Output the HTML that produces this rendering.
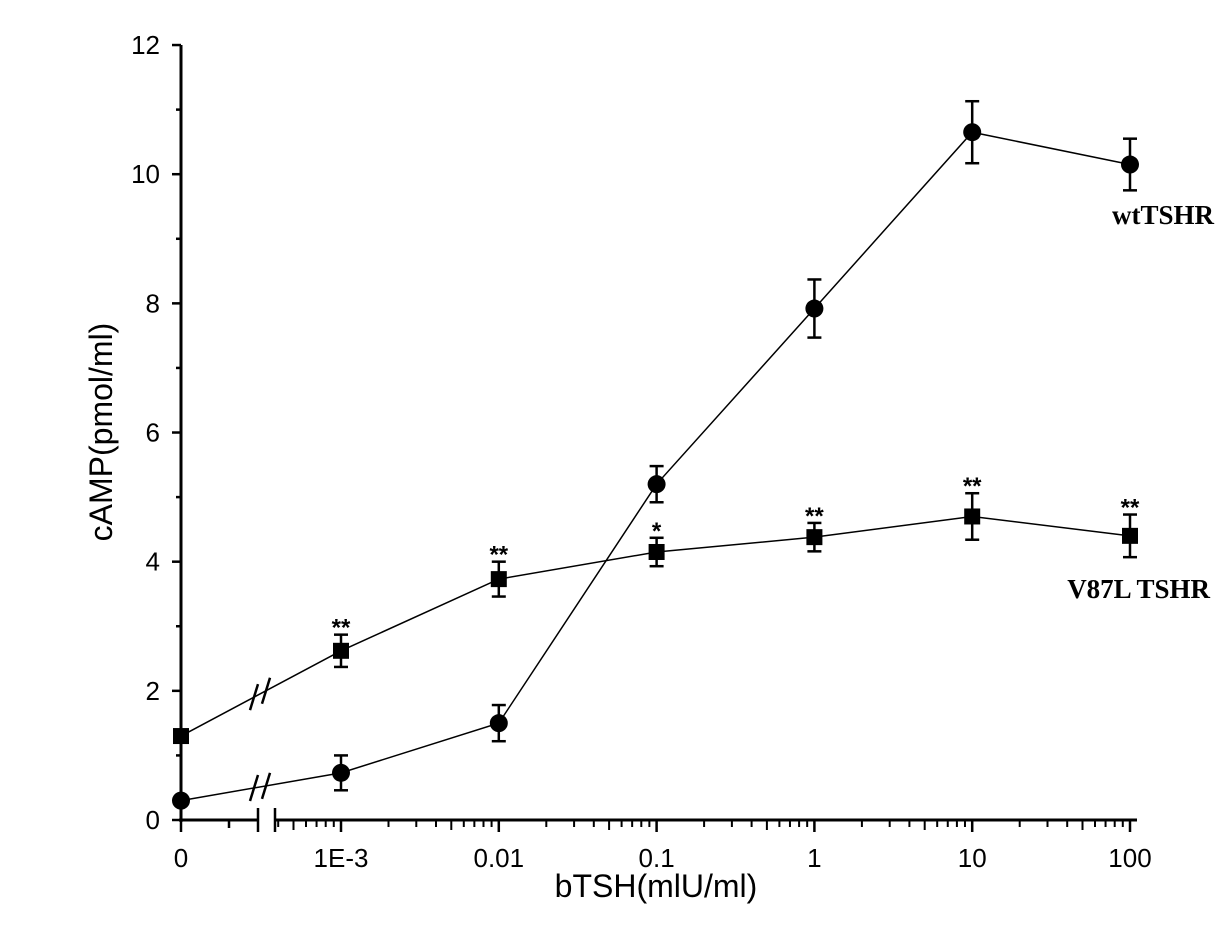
<!DOCTYPE html>
<html><head><meta charset="utf-8"><style>
body{margin:0;background:#fff}
svg text{font-family:"Liberation Sans",Arial,sans-serif}
</style></head><body>
<svg id="chart" width="1217" height="938" viewBox="0 0 1217 938"></svg>
<script>
const categories=["0","1E-3","0.01","0.1","1","10","100"];
const logPos=[null,-3,-2,-1,0,1,2];
const wtValues=[0.3,0.73,1.5,5.2,7.92,10.65,10.15];
const wtErrors=[0,0.27,0.28,0.28,0.45,0.48,0.4];
const mutValues=[1.3,2.62,3.73,4.15,4.38,4.7,4.4];
const mutErrors=[0,0.25,0.27,0.22,0.22,0.36,0.33];
const mutStars=["","**","**","*","**","**","**"];
const yTicks=[0,2,4,6,8,10,12];
const NS="http://www.w3.org/2000/svg";
const svg=document.getElementById('chart');
function y(v){return 820-v*64.58;}
function xl(l){return 341+(l+3)*157.8;}
function xc(i){return logPos[i]===null?181:xl(logPos[i]);}
function mk(t,a,p){const e=document.createElementNS(NS,t);for(const k in a)e.setAttribute(k,a[k]);(p||svg).appendChild(e);return e;}
let e;
e=mk('line',{x1:181,y1:45,x2:181,y2:822,stroke:'#000','stroke-width':3});


e=mk('line',{x1:179,y1:820,x2:258,y2:820,stroke:'#000','stroke-width':3});


e=mk('line',{x1:275,y1:820,x2:1137,y2:820,stroke:'#000','stroke-width':3});


mk('line',{x1:258,y1:808,x2:258,y2:832,stroke:'#000','stroke-width':2.5});
mk('line',{x1:275,y1:808,x2:275,y2:832,stroke:'#000','stroke-width':2.5});
mk('line',{x1:229,y1:820,x2:229,y2:828,stroke:'#000','stroke-width':2.5});
for(let v=0;v<=12;v++){const maj=v%2===0;mk('line',{x1:maj?172:176,y1:y(v),x2:181,y2:y(v),stroke:'#000','stroke-width':2.5});}
yTicks.forEach(v=>{const t=mk('text',{x:160,y:y(v)+9,'font-size':26,'text-anchor':'end'});t.textContent=v;

});
mk('line',{x1:181,y1:820,x2:181,y2:832,stroke:'#000','stroke-width':2.5});
for(let d=-4;d<=1;d++){for(let k=2;k<=9;k++){const px=xl(d+Math.log10(k));if(px<277)continue;mk('line',{x1:px,y1:820,x2:px,y2:(k===5?830:827),stroke:'#000','stroke-width':2});}}
for(let l=-3;l<=2;l++)mk('line',{x1:xl(l),y1:820,x2:xl(l),y2:832,stroke:'#000','stroke-width':2.5});
categories.forEach((c,i)=>{const t=mk('text',{x:xc(i),y:867,'font-size':26,'text-anchor':'middle'});t.textContent=c;

});
e=mk('text',{x:0,y:0,'font-size':32,'text-anchor':'middle',transform:'translate(112,432) rotate(-90)'});e.textContent='cAMP(pmol/ml)';


e=mk('text',{x:656,y:897,'font-size':32,'text-anchor':'middle'});e.textContent='bTSH(mlU/ml)';


function series(vals,errs,shape,name){
  const g=mk('g',{});
  
  
  mk('polyline',{points:vals.map((v,i)=>xc(i)+','+y(v)).join(' '),fill:'none',stroke:'#000','stroke-width':1.5},g);
  const xm=[254,266];const y0=y(vals[0]),y1=y(vals[1]),x0=xc(0),x1=xc(1);
  xm.forEach(px=>{const py=y0+(y1-y0)*(px-x0)/(x1-x0);mk('line',{x1:px-4,y1:py+13,x2:px+4,y2:py-13,stroke:'#000','stroke-width':2.5},g);});
  vals.forEach((v,i)=>{const cx=xc(i),cy=y(v),er=errs[i]*64.58;
    if(er>0){mk('line',{x1:cx,y1:cy-er,x2:cx,y2:cy+er,stroke:'#000','stroke-width':2.5},g);
      mk('line',{x1:cx-7,y1:cy-er,x2:cx+7,y2:cy-er,stroke:'#000','stroke-width':2.5},g);
      mk('line',{x1:cx-7,y1:cy+er,x2:cx+7,y2:cy+er,stroke:'#000','stroke-width':2.5},g);}
    let m;
    if(shape==='c')m=mk('circle',{cx:cx,cy:cy,r:9,fill:'#000'},g);
    else m=mk('rect',{x:cx-8,y:cy-8,width:16,height:16,fill:'#000'},g);
    
    
  });
}
series(wtValues,wtErrors,'c','wt-series');
series(mutValues,mutErrors,'s','v87l-series');
mutStars.forEach((s,i)=>{if(!s)return;const t=mk('text',{x:xc(i),y:y(mutValues[i]+mutErrors[i])+1,'font-size':24,'font-weight':'bold','text-anchor':'middle'});t.textContent=s;

});
e=mk('text',{x:1214,y:224,'font-size':27,'font-weight':'bold','text-anchor':'end',style:'font-family:"Liberation Serif",serif'});e.textContent='wtTSHR';


e=mk('text',{x:1210,y:598,'font-size':27,'font-weight':'bold','text-anchor':'end',style:'font-family:"Liberation Serif",serif'});e.textContent='V87L TSHR';


</script>
</body></html>
